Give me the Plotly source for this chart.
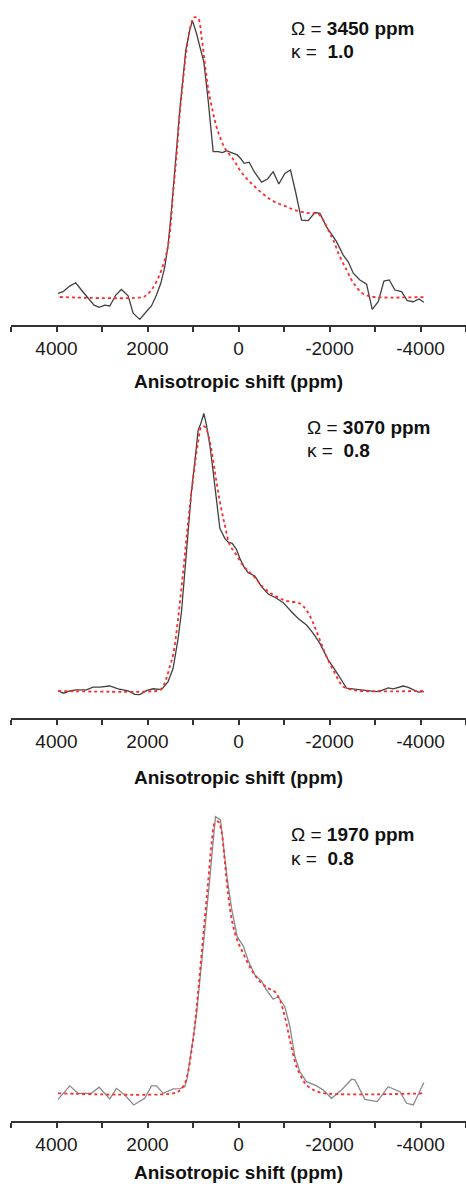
import plotly.graph_objects as go

# ---------------- data ----------------
# Panel 1: Omega = 3450 ppm, kappa = 1.0
p1_exp_ppm = [3966, 3856, 3709, 3577, 3452, 3306, 3174, 3064, 2939, 2829, 2697, 2573, 2426, 2316, 2170,
              2023, 1913, 1803, 1708, 1620, 1547, 1473, 1400, 1290, 1158, 1070, 1012, 924, 850, 762, 667,
              557, 447, 352, 264, 154, 29, -44, -125, -235, -345, -506, -638, -762, -887, -1019, -1143,
              -1261, -1385, -1532, -1679, -1789, -1935, -2155, -2302, -2412, -2522, -2668, -2815, -2939,
              -3071, -3196, -3313, -3438, -3584, -3709, -3841, -3966, -4075]
p1_exp_int = [0.013, 0.019, 0.039, 0.051, 0.025, -0.005, -0.029, -0.037, -0.029, -0.032, 0.007, 0.027,
              0.004, -0.058, -0.080, -0.052, -0.032, 0.007, 0.049, 0.108, 0.186, 0.311, 0.466, 0.669,
              0.883, 0.955, 0.988, 0.943, 0.895, 0.841, 0.704, 0.520, 0.520, 0.516, 0.523, 0.516, 0.508,
              0.496, 0.478, 0.482, 0.448, 0.411, 0.422, 0.448, 0.404, 0.442, 0.454, 0.371, 0.275, 0.273,
              0.302, 0.299, 0.251, 0.198, 0.150, 0.126, 0.085, 0.061, 0.046, -0.044, -0.017, 0.057,
              0.061, 0.025, 0.019, -0.013, -0.017, -0.007, -0.019]
p1_fit_ppm = [3929, 2096, 2023, 1913, 1803, 1693, 1583, 1510, 1437, 1363, 1290, 1217, 1143, 1056, 975,
              887, 814, 740, 667, 557, 484, 410, 301, 191, 81, -29, -176, -323, -506, -689, -865, -1056,
              -1239, -1422, -1605, -1752, -1862, -1972, -2082, -2228, -2375, -2485, -2595, -2705, -2815,
              -2962, -4098]
p1_fit_int = [0.0, 0.0, 0.007, 0.025, 0.055, 0.097, 0.156, 0.228, 0.371, 0.502, 0.657, 0.776, 0.883,
              0.967, 1.0, 0.996, 0.931, 0.836, 0.746, 0.657, 0.609, 0.573, 0.532, 0.508, 0.484, 0.454,
              0.424, 0.400, 0.373, 0.350, 0.335, 0.323, 0.311, 0.303, 0.299, 0.297, 0.275, 0.240, 0.204,
              0.144, 0.097, 0.061, 0.035, 0.015, 0.006, 0.0, 0.0]

# Panel 2: Omega = 3070 ppm, kappa = 0.8
p2_exp_ppm = [3966, 3841, 3709, 3562, 3342, 3196, 3049, 2829, 2646, 2426, 2280, 2170, 2023, 1876, 1693,
              1547, 1437, 1327, 1253, 1180, 1107, 1034, 960, 887, 828, 762, 704, 630, 557, 484, 410, 301,
              227, 139, 44, -29, -117, -213, -359, -506, -652, -836, -982, -1165, -1312, -1495, -1642,
              -1789, -1972, -2192, -2375, -2595, -2815, -3035, -3181, -3291, -3401, -3511, -3621, -3731,
              -3841, -3951, -4075]
p2_exp_int = [0.0, -0.008, 0.0, 0.004, 0.004, 0.014, 0.014, 0.018, 0.008, 0.0, -0.012, -0.013, 0.001,
              0.008, 0.005, 0.034, 0.082, 0.190, 0.286, 0.431, 0.563, 0.720, 0.828, 0.942, 0.966, 1.002,
              0.960, 0.888, 0.792, 0.684, 0.587, 0.551, 0.537, 0.533, 0.511, 0.479, 0.449, 0.427, 0.415,
              0.377, 0.350, 0.335, 0.319, 0.286, 0.262, 0.238, 0.208, 0.172, 0.112, 0.058, 0.010, 0.006,
              0.001, -0.002, 0.004, 0.011, 0.008, 0.013, 0.018, 0.013, 0.004, -0.004, -0.002]
p2_fit_ppm = [3966, 1803, 1730, 1657, 1583, 1510, 1437, 1327, 1217, 1107, 997, 887, 814, 740, 630, 520,
              410, 301, 191, 44, -103, -323, -542, -689, -836, -982, -1129, -1349, -1495, -1642, -1789,
              -1935, -2118, -2302, -2522, -2668, -4098]
p2_fit_int = [0.0, 0.0, 0.004, 0.016, 0.046, 0.088, 0.130, 0.262, 0.431, 0.611, 0.768, 0.900, 0.954,
              0.954, 0.900, 0.792, 0.684, 0.599, 0.527, 0.491, 0.452, 0.416, 0.374, 0.355, 0.341, 0.329,
              0.323, 0.316, 0.292, 0.244, 0.184, 0.124, 0.064, 0.016, 0.004, 0.0, 0.0]

# Panel 3: Omega = 1970 ppm, kappa = 0.8
p3_exp_ppm = [3966, 3709, 3526, 3233, 3064, 2829, 2683, 2500, 2302, 2060, 1913, 1803, 1657, 1437, 1290,
              1180, 1129, 1070, 997, 924, 850, 777, 704, 630, 557, 506, 396, 323, 249, 154, 29, -103,
              -213, -359, -506, -616, -762, -872, -1019, -1129, -1239, -1349, -1495, -1715, -1862, -2045,
              -2265, -2485, -2558, -2778, -3049, -3291, -3548, -3694, -3841, -4075]
p3_exp_int = [-0.022, 0.027, 0.0, 0.0, 0.022, -0.020, 0.018, -0.006, -0.042, -0.018, 0.027, 0.027, 0.0,
              0.016, 0.017, 0.024, 0.054, 0.114, 0.199, 0.283, 0.404, 0.524, 0.657, 0.777, 0.910, 1.0,
              0.988, 0.886, 0.777, 0.669, 0.566, 0.533, 0.480, 0.428, 0.406, 0.373, 0.340, 0.349, 0.313,
              0.241, 0.133, 0.078, 0.042, 0.027, 0.012, -0.018, 0.012, 0.051, 0.049, -0.022, -0.030,
              0.024, 0.006, -0.036, -0.042, 0.039]
p3_fit_ppm = [3966, 1437, 1290, 1180, 1107, 1034, 960, 887, 814, 740, 667, 594, 520, 447, 374, 301, 227,
              139, 29, -103, -286, -469, -652, -799, -909, -1019, -1129, -1275, -1385, -1495, -1679,
              -1898, -4098]
p3_fit_int = [0.0, 0.0, 0.010, 0.036, 0.078, 0.151, 0.247, 0.367, 0.500, 0.633, 0.765, 0.898, 0.976,
              0.982, 0.946, 0.837, 0.717, 0.620, 0.554, 0.506, 0.446, 0.404, 0.380, 0.367, 0.337, 0.277,
              0.193, 0.096, 0.058, 0.030, 0.010, 0.0, 0.0]

omega_labels = ["3450 ppm", "3070 ppm", "1970 ppm"]
kappa_labels = ["1.0", "0.8", "0.8"]
tick_values = [4000, 2000, 0, -2000, -4000]
tick_labels = ["4000", "2000", "0", "-2000", "-4000"]
minor_values = [5000, 3000, 1000, -1000, -3000, -5000]
x_title = "Anisotropic shift (ppm)"

# ---------------- layout geometry ----------------
W, H = 466, 1184
panels = [
    dict(ex=p1_exp_ppm, ey=p1_exp_int, fx=p1_fit_ppm, fy=p1_fit_int, col="#404040",
         axis_px=325, top_px=5, yr=[-0.1001, 1.044], t1=28, t2=51, tx=289, title_px=382),
    dict(ex=p2_exp_ppm, ey=p2_exp_int, fx=p2_fit_ppm, fy=p2_fit_int, col="#404040",
         axis_px=718.3, top_px=405, yr=[-0.0986, 1.0325], t1=427, t2=450, tx=305, title_px=777),
    dict(ex=p3_exp_ppm, ey=p3_exp_int, fx=p3_fit_ppm, fy=p3_fit_int, col="#8a8a8a",
         axis_px=1121, top_px=800, yr=[-0.100, 1.060], t1=834, t2=858, tx=289, title_px=1172),
]

fig = go.Figure()
FONT = "Liberation Sans, Arial, sans-serif"
annotations = []
for i, p in enumerate(panels):
    k = "" if i == 0 else str(i + 1)
    fig.add_trace(go.Scatter(x=p["ex"], y=p["ey"], mode="lines",
                             line=dict(color=p["col"], width=1.3),
                             xaxis="x" + k, yaxis="y" + k, showlegend=False))
    fig.add_trace(go.Scatter(x=p["fx"], y=p["fy"], mode="lines", line_shape="spline",
                             line=dict(color="#ff2a2a", width=1.8, dash="dot"),
                             xaxis="x" + k, yaxis="y" + k, showlegend=False))
    dom = [1 - p["axis_px"] / H, 1 - p["top_px"] / H]
    fig.update_layout(**{
        "xaxis" + k: dict(domain=[11 / W, 1.0], range=[5000, -5000], anchor="y" + k,
                          showline=True, linecolor="#333333", linewidth=1.5,
                          ticks="outside", ticklen=5, tickwidth=1.5, tickcolor="#333333",
                          tickvals=tick_values, ticktext=tick_labels,
                          tickfont=dict(family=FONT, size=19, color="#1a1a1a"),
                          minor=dict(tickvals=minor_values, ticks="outside", ticklen=5,
                                     tickwidth=1.5, tickcolor="#333333"),
                          showgrid=False, zeroline=False, fixedrange=True),
        "yaxis" + k: dict(domain=dom, range=p["yr"], anchor="x" + k, visible=False,
                          showgrid=False, zeroline=False, fixedrange=True),
    })
    annotations.append(dict(xref="paper", yref="paper", x=p["tx"] / W, y=1 - p["t1"] / H,
                            xanchor="left", yanchor="middle", showarrow=False,
                            text="Ω = <b>" + omega_labels[i] + "</b>",
                            font=dict(family=FONT, size=19, color="#111111")))
    annotations.append(dict(xref="paper", yref="paper", x=p["tx"] / W, y=1 - p["t2"] / H,
                            xanchor="left", yanchor="middle", showarrow=False,
                            text="κ =  <b>" + kappa_labels[i] + "</b>",
                            font=dict(family=FONT, size=19, color="#111111")))
    annotations.append(dict(xref="paper", yref="paper", x=238.5 / W, y=1 - p["title_px"] / H,
                            xanchor="center", yanchor="middle", showarrow=False,
                            text="<b>" + x_title + "</b>",
                            font=dict(family=FONT, size=19, color="#111111")))

fig.update_layout(width=W, height=H, margin=dict(l=0, r=0, t=0, b=0),
                  paper_bgcolor="white", plot_bgcolor="white",
                  annotations=annotations, showlegend=False)

fig.write_html("out.html")
